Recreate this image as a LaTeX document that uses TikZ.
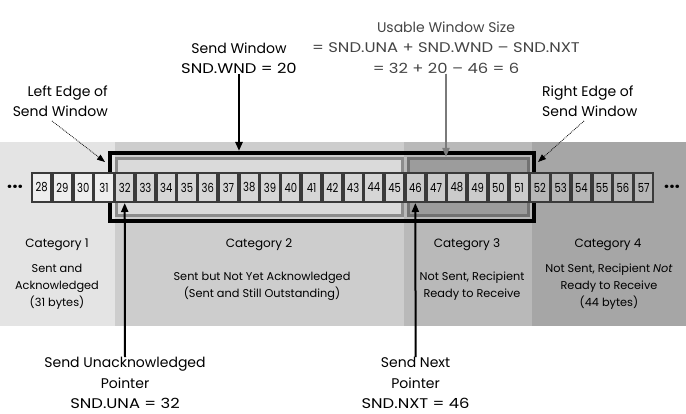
\documentclass[tikz,border=0pt]{standalone}
\usepackage{fontspec}
\setmainfont{Poppins}
\newfontfamily\capsfont{Poppins}[FakeStretch=1.17]
\newfontfamily\cellfont{Poppins}[FakeStretch=0.8]
\usetikzlibrary{arrows.meta}
\definecolor{bandA}{HTML}{E4E4E4}
\definecolor{bandB}{HTML}{CDCDCD}
\definecolor{bandC}{HTML}{B9B9B9}
\definecolor{bandD}{HTML}{A6A6A6}
\definecolor{innerB}{HTML}{DADADA}
\definecolor{innerBline}{HTML}{8C8C8C}
\definecolor{innerC}{HTML}{9C9C9C}
\definecolor{innerCline}{HTML}{727272}
\definecolor{cellA}{HTML}{EEEEEE}
\definecolor{cellB}{HTML}{D6D6D6}
\definecolor{cellC}{HTML}{CBCBCB}
\definecolor{cellD}{HTML}{B6B6B6}
\definecolor{cellline}{HTML}{3A3A3A}
\definecolor{usegray}{HTML}{444444}
\definecolor{usearrow}{HTML}{7A7A7A}
\tikzset{
  cell/.style={draw=cellline, line width=1.8, minimum width=18.96, minimum height=29.2, inner sep=0, font=\cellfont\fontsize{12.5}{12.5}\selectfont},
  lbl/.style={align=center, inner sep=0, font=\fontsize{14}{20.5}\selectfont},
  catlbl/.style={inner sep=0, font=\fontsize{12}{14}\selectfont},
  sub/.style={align=center, inner sep=0, font=\fontsize{11.3}{17}\selectfont},
  arr/.style={-{Triangle[length=9,width=7]}},
  dotarr/.style={densely dotted, line width=0.8, -{Triangle[length=8,width=6]}},
  dots/.style={font=\bfseries\fontsize{18}{18}\selectfont, inner sep=0}
}
\begin{document}
\begin{tikzpicture}[x=1pt,y=-1pt]
\useasboundingbox (0,0) rectangle (686,414);
% bands
\fill[bandA] (0,142) rectangle (115,326);
\fill[bandB] (115,142) rectangle (404,326);
\fill[bandC] (404,142) rectangle (532,326);
\fill[bandD] (532,142) rectangle (686,326);
% inner rectangles
\node[draw=innerBline, fill=innerB, line width=3, minimum width=286, minimum height=57, inner sep=0] (inB) at (259.5,187) {};
\node[draw=innerCline, fill=innerC, line width=3, minimum width=120, minimum height=57, inner sep=0] (inC) at (468.5,187) {};
% window frame
\node[draw=black, line width=4, minimum width=424, minimum height=68, inner sep=0] (win) at (322,187) {};
% cells
\foreach \n [count=\i from 0] in {28,...,57}{
  \pgfmathsetmacro{\cx}{31.3+10.38+\i*20.76}
  \ifnum\n<32 \def\cf{cellA}\else\ifnum\n<46 \def\cf{cellB}\else\ifnum\n<52 \def\cf{cellC}\else\def\cf{cellD}\fi\fi\fi
  \node[cell, fill=\cf] (c\n) at (\cx,187.5) {\n};
}
\node[dots] (dl) at (15,189) {···};
\node[dots] (dr) at (672,189) {···};
% top labels
\node[lbl] (sw) at (239,58) {Send Window\\{\capsfont SND.WND = 20}};
\node[lbl, text=usegray] (us) at (446,47.5) {Usable Window Size\\{\capsfont = SND.UNA + SND.WND – SND.NXT}\\{\capsfont = 32 + 20 – 46 = 6}};
\node[lbl, align=right, anchor=east] (le) at (108,101) {Left Edge of\\Send Window};
\node[lbl, align=left, anchor=west] (re) at (542,101) {Right Edge of\\Send Window};
\draw[arr, line width=2.5] (sw.south) -- (sw.south |- win.north);
\draw[arr, line width=2, draw=usearrow, fill=usearrow] (us.south) -- (us.south |- inC.north);
\coordinate (lestart) at (52,121);
\coordinate (letip) at (105,162);
\coordinate (restart) at (584,121);
\coordinate (retip) at (538,162);
\draw[dotarr] (lestart) -- (letip);
\draw[dotarr] (restart) -- (retip);
% category labels
\node[catlbl] (k1) at (57,245) {Category 1};
\node[catlbl] (k2) at (259,245) {Category 2};
\node[catlbl] (k3) at (467,245) {Category 3};
\node[catlbl] (k4) at (608,245) {Category 4};
\node[sub] (s1) at (57,287) {Sent and\\Acknowledged\\(31 bytes)};
\node[sub] (s2) at (262,286.5) {Sent but Not Yet Acknowledged\\(Sent and Still Outstanding)};
\node[sub] (s3) at (472,286.5) {Not Sent, Recipient\\Ready to Receive};
\node[sub] (s4) at (609,287) {Not Sent, Recipient \emph{Not}\\Ready to Receive\\(44 bytes)};
% bottom labels
\node[lbl] (una) at (125,383) {Send Unacknowledged\\Pointer\\{\capsfont SND.UNA = 32}};
\node[lbl] (nxt) at (415.6,383) {Send Next\\Pointer\\{\capsfont SND.NXT = 46}};
\draw[arr, line width=2] (una.north) -- (c32.south);
\draw[arr, line width=2] (nxt.north) -- (c46.south);
\end{tikzpicture}
\end{document}
